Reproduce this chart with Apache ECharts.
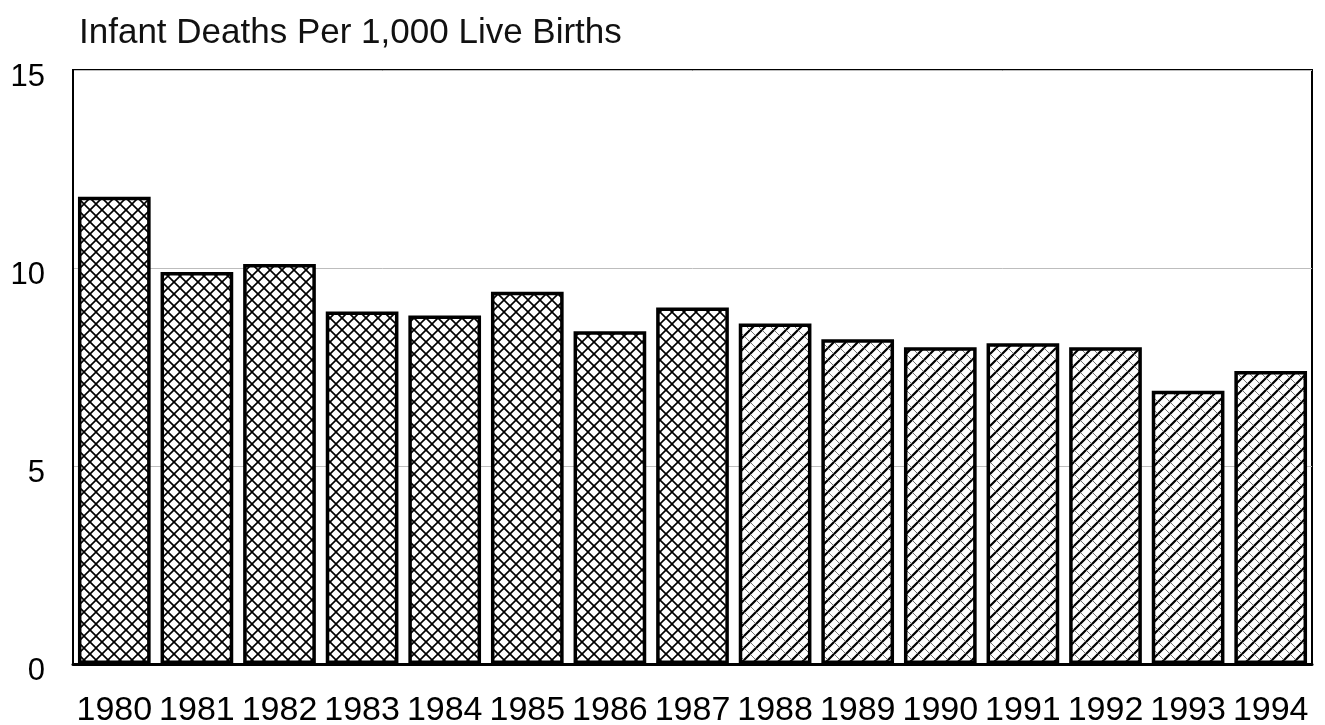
<!DOCTYPE html>
<html>
<head>
<meta charset="utf-8">
<script src="https://cdn.jsdelivr.net/npm/echarts@6/dist/echarts.min.js"></script>
<style>
  html, body { margin: 0; padding: 0; background: #fff; }
  #chart { width: 1325px; height: 725px; }
</style>
</head>
<body>
<div id="chart"></div>
<script>
// infant deaths per 1,000 live births
var years = ['1980', '1981', '1982', '1983', '1984', '1985', '1986', '1987',
             '1988', '1989', '1990', '1991', '1992', '1993', '1994'];
var rates = [11.8, 9.9, 10.1, 8.9, 8.8, 9.4, 8.4, 9.0,
             8.6, 8.2, 8.0, 8.1, 8.0, 6.9, 7.4];
var yTicks = [0, 5, 10, 15];

// small canvas tiles for the hatch fills
function makeTile(kind) {
  var s = 12;
  var c = document.createElement('canvas');
  c.width = s; c.height = s;
  var ctx = c.getContext('2d');
  ctx.fillStyle = '#fff';
  ctx.fillRect(0, 0, s, s);
  ctx.strokeStyle = '#000';
  ctx.lineCap = 'square';
  // "/" direction
  ctx.lineWidth = kind == 'cross' ? 1.6 : 2.2;
  ctx.beginPath();
  ctx.moveTo(-1, s + 1); ctx.lineTo(s + 1, -1);
  ctx.moveTo(-1, 1); ctx.lineTo(1, -1);
  ctx.moveTo(s - 1, s + 1); ctx.lineTo(s + 1, s - 1);
  ctx.stroke();
  // "\" direction
  ctx.lineWidth = kind == 'cross' ? 1.6 : 0.8;
  ctx.strokeStyle = kind == 'cross' ? '#000' : '#555';
  ctx.beginPath();
  ctx.moveTo(-1, -1); ctx.lineTo(s + 1, s + 1);
  ctx.moveTo(s - 1, -1); ctx.lineTo(s + 1, 1);
  ctx.moveTo(-1, s - 1); ctx.lineTo(1, s + 1);
  ctx.stroke();
  return c;
}
var crossFill = { image: makeTile('cross'), repeat: 'repeat' };
var diagFill = { image: makeTile('diag'), repeat: 'repeat' };

var barData = rates.map(function(v, i) {
  return { value: v, itemStyle: { color: i < 8 ? crossFill : diagFill } };
});

var chart = echarts.init(document.getElementById('chart'));
chart.setOption({
  animation: false,
  backgroundColor: '#fff',
  textStyle: { fontFamily: 'Liberation Sans, Arial, sans-serif', color: '#000' },
  title: {
    text: 'Infant Deaths Per 1,000 Live Births',
    left: 74,
    top: 11,
    textStyle: { fontSize: 35, fontWeight: 'normal', color: '#111',
                 fontFamily: 'Liberation Sans, Arial, sans-serif' }
  },
  grid: {
    left: 73, right: 13, top: 70, bottom: 61,
    show: true, borderColor: '#000', borderWidth: 2,
    outerBoundsMode: 'none'
  },
  xAxis: {
    type: 'category',
    data: years,
    axisTick: { show: false },
    axisLine: { lineStyle: { color: '#000', width: 3 } },
    axisLabel: { interval: 0, fontSize: 34, color: '#000', margin: 30 }
  },
  yAxis: {
    type: 'value',
    min: yTicks[0],
    max: yTicks[yTicks.length - 1],
    interval: 5,
    axisLine: { show: true, lineStyle: { color: '#000', width: 2 } },
    axisTick: { show: false },
    axisLabel: {
      margin: 28,
      formatter: function(v) { return '{t|' + v + '}'; },
      rich: { t: { fontSize: 31, color: '#000', padding: [14, 0, 0, 0] } }
    },
    splitLine: { lineStyle: { color: '#bdbdbd', width: 1 } }
  },
  series: [{
    type: 'bar',
    data: barData,
    barCategoryGap: '12%',
    itemStyle: { borderColor: '#000', borderWidth: 3.5 }
  }]
});
</script>
</body>
</html>
